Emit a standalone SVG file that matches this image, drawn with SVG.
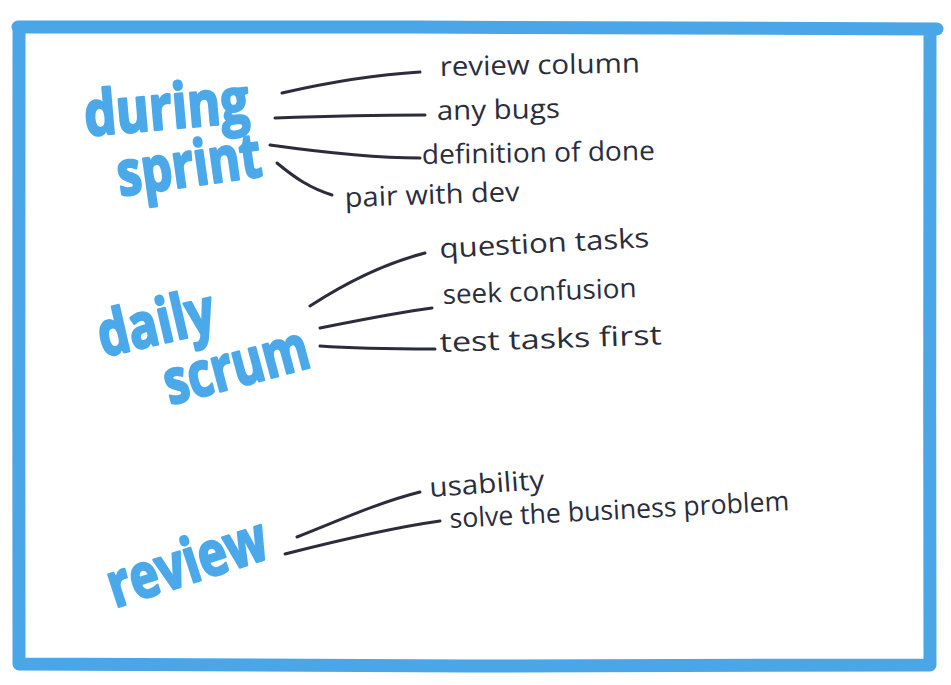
<svg xmlns="http://www.w3.org/2000/svg" width="951" height="685" viewBox="0 0 951 685">
<style>
.frame{fill:none;stroke:#4aa6e6;stroke-width:13;stroke-linecap:round;stroke-linejoin:round}
.big{font-family:"Open Sans","Liberation Sans",sans-serif;font-weight:700;fill:#4ba9ea;stroke:#4ba9ea;stroke-width:2.5;stroke-linejoin:round}
.small{font-family:"Open Sans","Liberation Sans",sans-serif;font-size:27px;fill:#2b2d3b}
.con{fill:none;stroke:#2b2d3b;stroke-width:3;stroke-linecap:round}
</style>
<rect width="951" height="685" fill="#ffffff"/>
<path class="frame" d="M18,27 C300,26 700,28 937,29 M19,27 C20,250 18,450 19,664 C300,667 650,666 930,665 M930,29 C929,250 930,450 930,665"/>
<g id="during-sprint">
<text class="big" font-size="62" transform="translate(86,136) rotate(-5)" textLength="165" lengthAdjust="spacingAndGlyphs">during</text>
<text class="big" font-size="62" transform="translate(120,196) rotate(-8)" textLength="145" lengthAdjust="spacingAndGlyphs">sprint</text>
</g>
<g id="daily-scrum">
<text class="big" font-size="62" transform="translate(103,357) rotate(-13)" textLength="118" lengthAdjust="spacingAndGlyphs">daily</text>
<text class="big" font-size="62" transform="translate(170,405) rotate(-15)" textLength="148" lengthAdjust="spacingAndGlyphs">scrum</text>
</g>
<g id="review">
<text class="big" font-size="62" transform="translate(115,608) rotate(-18)" textLength="165" lengthAdjust="spacingAndGlyphs">review</text>
</g>
<g id="labels">
<text class="small" transform="translate(440,76) rotate(-1)" textLength="200" lengthAdjust="spacingAndGlyphs">review column</text>
<text class="small" transform="translate(437,120) rotate(-1)" textLength="123" lengthAdjust="spacingAndGlyphs">any bugs</text>
<text class="small" transform="translate(422,164) rotate(-1)" textLength="233" lengthAdjust="spacingAndGlyphs">definition of done</text>
<text class="small" transform="translate(345,207) rotate(-2)" textLength="175" lengthAdjust="spacingAndGlyphs">pair with dev</text>
<text class="small" transform="translate(440,258) rotate(-3)" textLength="210" lengthAdjust="spacingAndGlyphs">question tasks</text>
<text class="small" transform="translate(443,304) rotate(-2)" textLength="194" lengthAdjust="spacingAndGlyphs">seek confusion</text>
<text class="small" transform="translate(440,352) rotate(-2)" textLength="222" lengthAdjust="spacingAndGlyphs">test tasks first</text>
<text class="small" transform="translate(430,497) rotate(-4)" textLength="115" lengthAdjust="spacingAndGlyphs">usability</text>
<text class="small" transform="translate(450,528) rotate(-3)" textLength="340" lengthAdjust="spacingAndGlyphs">solve the business problem</text>
</g>
<g id="connectors">
<path class="con" d="M282,93 C330,82 370,75 420,72"/>
<path class="con" d="M275,118 C330,116 380,115 425,115"/>
<path class="con" d="M270,145 C320,152 370,158 420,158"/>
<path class="con" d="M277,163 C295,178 310,188 332,195"/>
<path class="con" d="M310,306 C350,280 390,262 425,253"/>
<path class="con" d="M320,328 C360,320 400,312 432,308"/>
<path class="con" d="M320,346 C360,349 400,349 435,349"/>
<path class="con" d="M297,537 C340,520 380,502 420,492"/>
<path class="con" d="M285,554 C340,540 390,528 440,521"/>
</g>
</svg>
